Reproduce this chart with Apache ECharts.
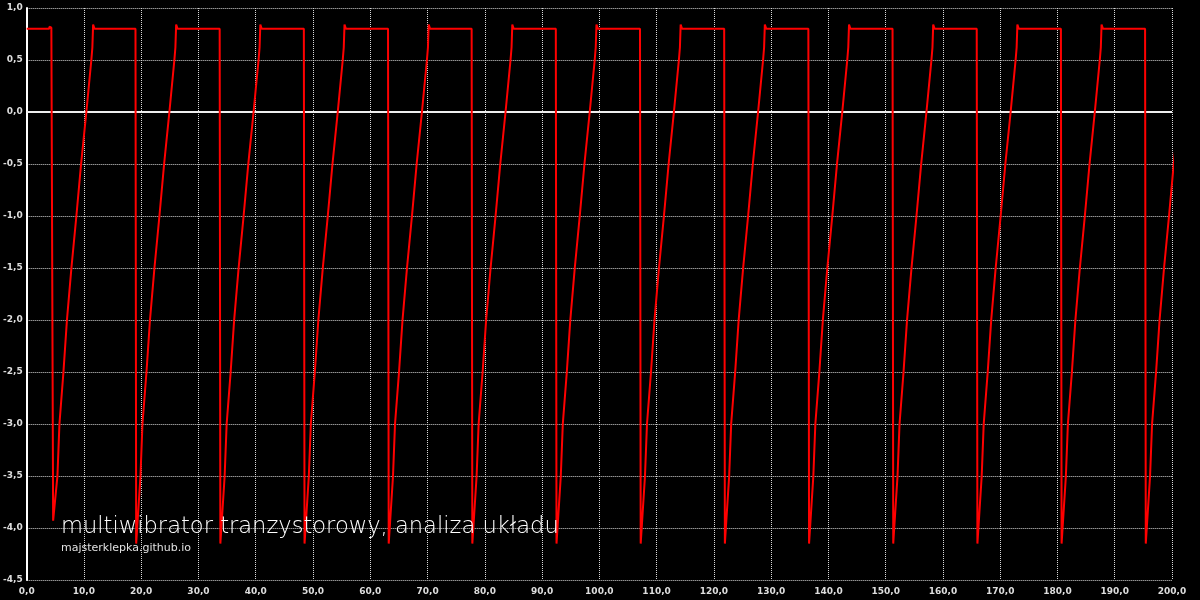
<!DOCTYPE html>
<html>
<head>
<meta charset="utf-8">
<title>multiwibrator</title>
<script src="https://cdn.jsdelivr.net/npm/echarts@6/dist/echarts.min.js"></script>
<style>
  html, body { margin: 0; padding: 0; background: #000; }
  #chart { width: 1200px; height: 600px; }
</style>
</head>
<body>
<div id="chart"></div>
<script>
  // odczyty z wykresu (czas, napiecie)
  const startTimes = [0, 3.95, 3.96, 4.3, 4.31]
  const startValues = [0.8, 0.8, 0.82, 0.82, 0.81]
  const dropTimes = [4.5, 19.0, 33.7, 48.4, 63.1, 77.7, 92.4, 107.1, 121.8, 136.5, 151.2, 165.9, 180.6, 195.3]
  const dropLows = [-3.93, -4.15, -4.15, -4.15, -4.15, -4.15, -4.15, -4.15, -4.15, -4.15, -4.15, -4.15, -4.15, -4.15]
  const riseOffsets = [0.87, 1.22, 1.92, 2.53, 3.31, 4.18, 5.0, 5.92, 6.79, 6.97, 7.1, 7.35]
  const riseValues = [-3.5, -3.0, -2.5, -2.0, -1.5, -1.0, -0.5, 0, 0.5, 0.62, 0.84, 0.80]
  const highLevel = 0.8
  const zeroLine = [[0, 0], [200, 0]]

  const points = startTimes.map((t, i) => [t, startValues[i]])
  dropTimes.forEach((t, i) => {
    points.push([t, i === 0 ? 0.81 : highLevel])
    points.push([t + 0.12, dropLows[i]])
    riseOffsets.forEach((o, j) => {
      points.push([t + o, riseValues[j]])
    })
  })

  const fmt = v => v.toFixed(1).replace('.', ',')

  const myChart = echarts.init(document.getElementById('chart'))
  myChart.setOption({
    backgroundColor: '#000',
    animation: false,
    title: {
      left: 56,
      top: 511,
      text: 'multiwibrator tranzystorowy, analiza układu',
      subtext: 'majsterklepka.github.io',
      itemGap: 4,
      textStyle: { color: '#fff', fontSize: 22.6, fontWeight: 200, fontFamily: 'DejaVu Sans' },
      subtextStyle: { color: '#e0e0e0', fontSize: 11, fontFamily: 'DejaVu Sans' }
    },
    grid: { left: 25, right: 28, top: 8, bottom: 20 },
    xAxis: {
      type: 'value',
      min: 0,
      max: 200,
      interval: 10,
      axisLine: { show: false },
      axisTick: { show: false },
      axisLabel: {
        color: '#ddd', fontSize: 9, fontWeight: 'bold', fontFamily: 'DejaVu Sans',
        margin: 7, formatter: fmt
      },
      splitLine: { lineStyle: { color: '#d8d8d8', type: [1, 1], width: 1 } }
    },
    yAxis: {
      type: 'value',
      min: -4.5,
      max: 1.0,
      interval: 0.5,
      axisLine: { show: true, lineStyle: { color: '#fff', width: 2 } },
      axisTick: { show: false },
      axisLabel: {
        color: '#ddd', fontSize: 9, fontWeight: 'bold', fontFamily: 'DejaVu Sans',
        margin: 4, formatter: fmt
      },
      splitLine: { lineStyle: { color: '#d8d8d8', type: [1, 1], width: 1 } }
    },
    series: [
      {
        type: 'line',
        data: zeroLine,
        symbol: 'none',
        silent: true,
        lineStyle: { color: '#eee', width: 2 }
      },
      {
        type: 'line',
        data: points,
        symbol: 'none',
        clip: true,
        lineStyle: { color: '#ff0000', width: 2 }
      }
    ]
  })
</script>
</body>
</html>
